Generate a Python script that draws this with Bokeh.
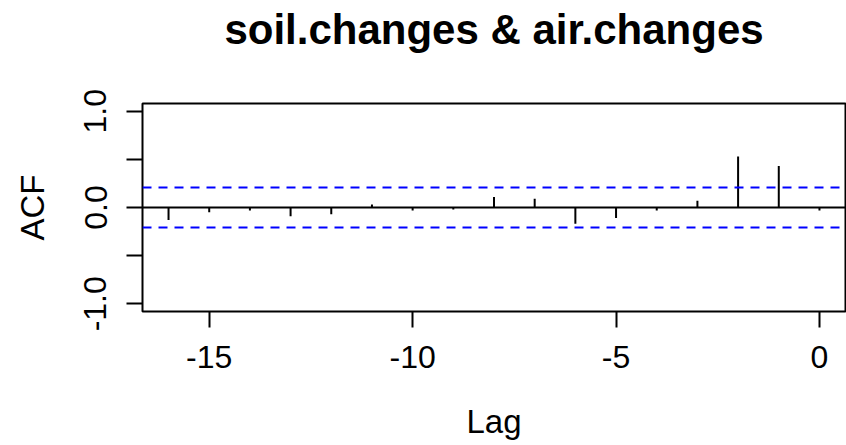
from bokeh.plotting import figure
from bokeh.models import (Span, FixedTicker, CustomJSTickFormatter, Range1d,
                          LinearAxis, Title)
from bokeh.embed import file_html
from bokeh.resources import INLINE

# ---- data ----
lags = [-16, -15, -14, -13, -12, -11, -10, -9, -8, -7, -6, -5, -4, -3, -2, -1, 0]
acf_values = [-0.13, -0.05, -0.03, -0.09, -0.07, 0.03, -0.03, -0.02, 0.11,
              0.09, -0.17, -0.11, -0.03, 0.07, 0.53, 0.43, -0.03]
conf_limit = 0.207
x_ticks = [-15, -10, -5, 0]
y_ticks = [-1.0, -0.5, 0.0, 0.5, 1.0]
title_text = "soil.changes & air.changes"
x_label = "Lag"
y_label = "ACF"

FONT = "Liberation Sans"

p = figure(width=846, height=445, output_backend="svg", toolbar_location=None,
           x_range=Range1d(-16.64, 0.64), y_range=Range1d(-1.08, 1.08),
           min_border_left=142, min_border_right=1, min_border_top=103,
           min_border_bottom=134, background_fill_color="white",
           border_fill_color="white")

p.xgrid.visible = False
p.ygrid.visible = False
p.outline_line_color = "black"
p.outline_line_width = 2
p.title.text = ""

xax = p.below[0]
yax = p.left[0]

# invisible spacer between frame and title (closest to the frame)
spacer = LinearAxis(ticker=FixedTicker(ticks=[x_ticks[0]]),
                    formatter=CustomJSTickFormatter(code="return '';"),
                    axis_line_color=None,
                    major_tick_line_color="white", major_tick_line_alpha=0.001,
                    minor_tick_line_color=None,
                    major_tick_in=0, major_tick_out=50, minor_tick_in=0,
                    minor_tick_out=0, major_label_standoff=0,
                    major_label_text_font_size="1px")
p.add_layout(spacer, "above")

# title, stacked outside the spacer
main_title = Title(text=title_text, align="center", vertical_align="bottom",
                   text_font=FONT, text_font_style="bold", text_font_size="42px",
                   text_color="black", standoff=2)
p.add_layout(main_title, "above")

# axes
for ax in (xax, yax):
    ax.axis_line_color = None
    ax.major_tick_line_color = "black"
    ax.major_tick_line_width = 2
    ax.major_tick_in = 0
    ax.major_tick_out = 16
    ax.minor_tick_line_color = None
    ax.major_label_text_font = FONT
    ax.major_label_text_font_size = "32px"
    ax.major_label_text_color = "black"
    ax.axis_label_text_font = FONT
    ax.axis_label_text_font_size = "33px"
    ax.axis_label_text_font_style = "normal"
    ax.axis_label_text_color = "black"

xax.ticker = FixedTicker(ticks=x_ticks)
xax.formatter = CustomJSTickFormatter(code="return tick.toFixed(0);")
xax.major_label_standoff = 18
xax.axis_label = x_label
xax.axis_label_standoff = 32

yax.ticker = FixedTicker(ticks=y_ticks)
yax.formatter = CustomJSTickFormatter(
    code="return Math.abs(Math.abs(tick) - 0.5) < 1e-9 ? '' : tick.toFixed(1);")
yax.major_label_orientation = "vertical"
yax.major_label_standoff = 20
yax.axis_label = y_label
yax.axis_label_standoff = 31

# zero line and confidence limits
p.add_layout(Span(location=0, dimension="width", line_color="black", line_width=2))
p.add_layout(Span(location=conf_limit, dimension="width", line_color="blue",
                  line_width=2, line_dash="9 7"))
p.add_layout(Span(location=-conf_limit, dimension="width", line_color="blue",
                  line_width=2, line_dash="9 7"))

# ACF bars
p.segment(x0=lags, y0=[0] * len(lags), x1=lags, y1=acf_values,
          line_color="black", line_width=2)

open("out.html", "w").write(file_html(p, INLINE))
